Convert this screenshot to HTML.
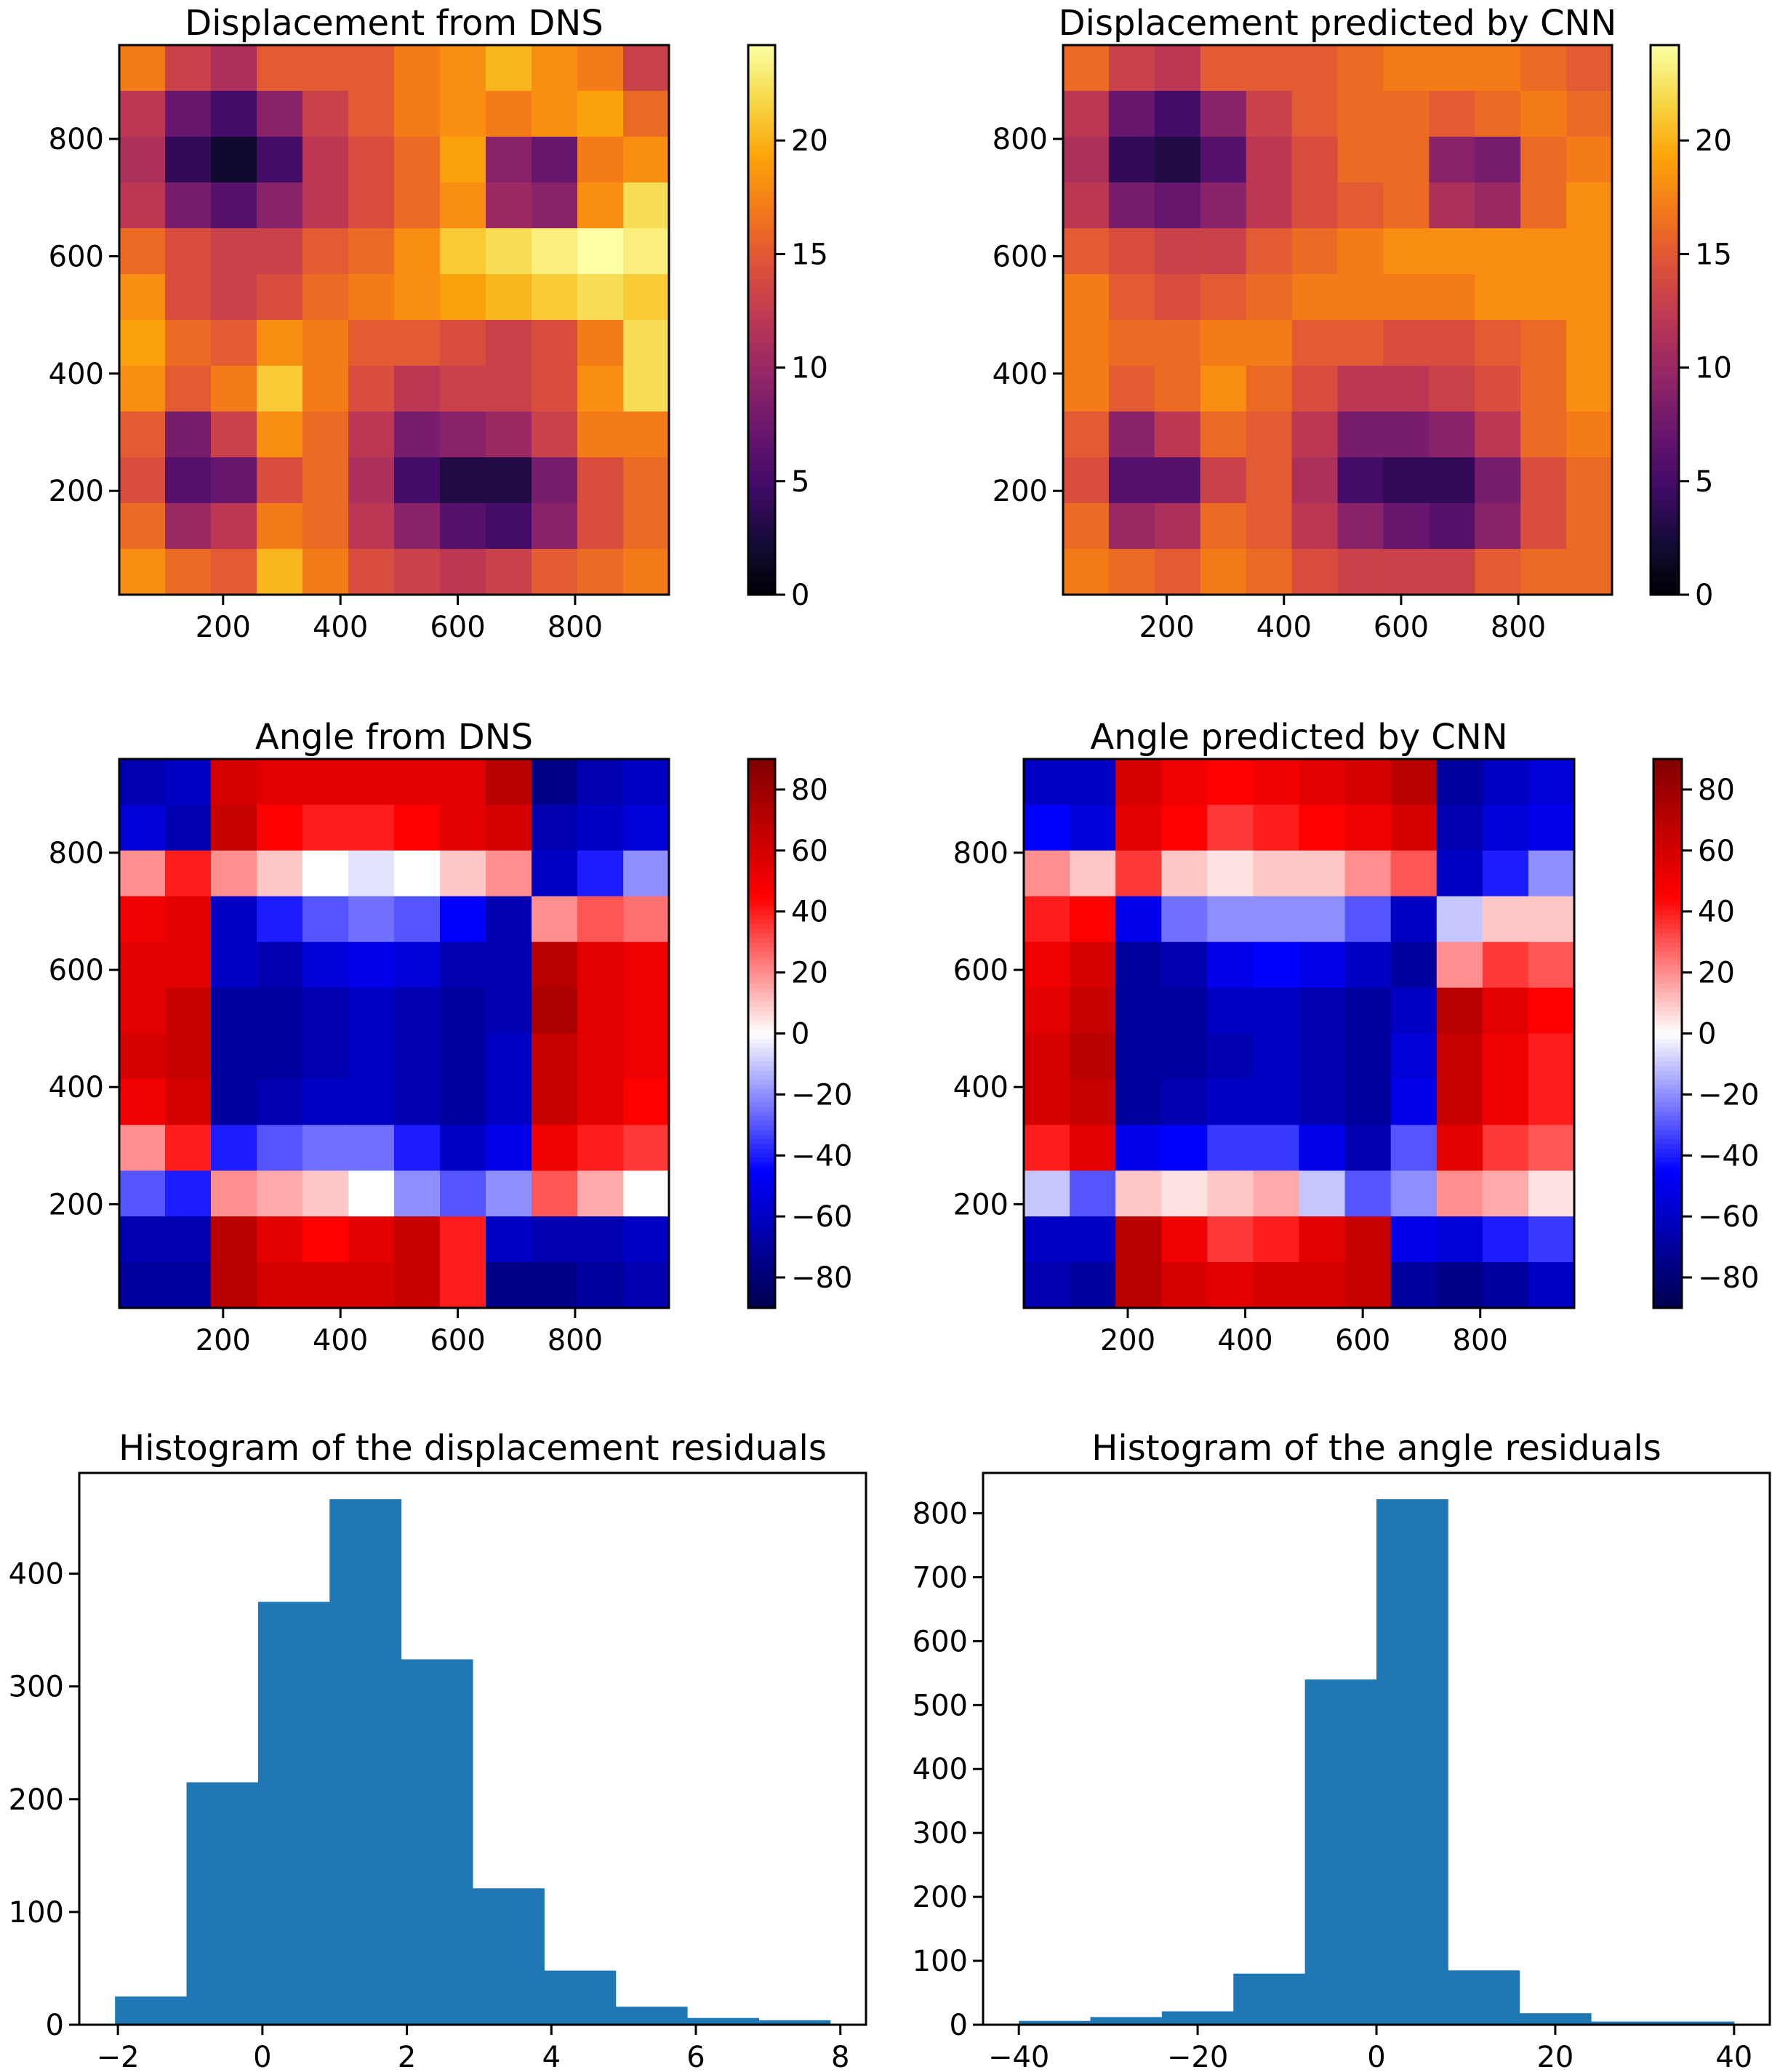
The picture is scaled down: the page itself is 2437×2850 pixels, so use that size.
<!DOCTYPE html>
<html><head><meta charset="utf-8"><style>
html,body{margin:0;padding:0;background:#fff;}
svg{display:block;font-family:"DejaVu Sans","Liberation Sans",sans-serif;}
</style></head><body>
<svg id="fig" width="2437" height="2850" viewBox="0 0 2437 2850" xmlns="http://www.w3.org/2000/svg"></svg>
<script>
// ---------- data ----------
const dispDNS = [
[17,13,11,15,15,15,17,18,20,18,17,13],
[12,7,5,9,13,15,17,18,17,18,19,16],
[11,4,2,5,12,14,16,19,9,7,17,18],
[12,8,6,9,12,14,16,18,10,9,18,22],
[16,14,13,13,15,16,18,21,22,23,24,23],
[18,14,13,14,16,17,18,19,20,21,22,21],
[19,16,15,18,17,15,15,14,13,14,17,22],
[18,15,17,21,17,14,12,13,13,14,18,22],
[15,8,13,18,16,12,8,9,10,13,17,17],
[14,6,7,14,16,11,5,3,3,8,14,16],
[16,10,12,17,16,12,9,6,5,9,14,16],
[18,16,15,20,17,14,13,12,13,15,16,17]];
const dispCNN = [
[16,13,12,15,15,15,16,17,17,17,16,15],
[12,7,5,9,13,15,16,16,15,16,17,16],
[11,4,3,6,12,14,16,16,9,8,16,17],
[12,8,7,9,12,14,15,16,11,10,16,18],
[15,14,13,13,15,16,17,18,18,18,18,18],
[17,15,14,15,16,17,17,17,17,18,18,18],
[17,16,16,17,17,15,15,14,14,15,16,18],
[17,15,16,18,16,14,12,12,13,14,16,18],
[15,9,12,16,15,12,8,8,9,12,16,17],
[14,6,6,13,15,11,5,4,4,8,14,16],
[16,10,11,16,15,12,9,7,6,9,14,16],
[17,16,15,17,16,14,13,13,13,15,16,16]];
const angDNS = [
[-65,-60,60,55,55,55,55,55,70,-75,-65,-60],
[-55,-65,65,45,40,40,45,55,60,-65,-60,-55],
[20,40,20,10,0,-5,0,10,20,-60,-40,-20],
[50,55,-60,-40,-30,-25,-30,-45,-65,20,30,25],
[55,55,-60,-65,-55,-50,-55,-65,-65,70,55,50],
[55,65,-70,-70,-65,-60,-65,-70,-65,75,55,50],
[60,65,-70,-70,-65,-60,-65,-70,-60,65,55,50],
[50,60,-70,-65,-60,-60,-65,-70,-60,65,55,45],
[20,40,-40,-30,-25,-25,-40,-60,-50,50,40,35],
[-30,-40,20,15,10,0,-20,-30,-20,30,15,0],
[-65,-65,70,55,45,55,65,40,-60,-65,-65,-60],
[-70,-70,70,60,60,60,65,40,-75,-75,-70,-65]];
const angCNN = [
[-60,-60,60,50,45,50,55,60,70,-70,-60,-55],
[-45,-55,55,45,35,40,45,50,60,-65,-55,-50],
[20,10,35,10,5,10,10,20,30,-60,-40,-20],
[40,45,-50,-25,-20,-20,-20,-30,-60,-10,10,10],
[50,60,-70,-65,-50,-45,-50,-60,-70,20,35,30],
[55,65,-70,-70,-60,-60,-65,-70,-60,70,55,45],
[60,70,-70,-70,-65,-60,-65,-70,-55,65,50,40],
[60,65,-70,-65,-60,-60,-65,-70,-50,65,50,40],
[40,55,-50,-45,-35,-35,-50,-65,-30,55,35,30],
[-10,-30,10,5,10,15,-10,-30,-20,20,15,5],
[-60,-60,70,50,35,40,55,65,-50,-55,-40,-35],
[-65,-70,70,60,55,60,60,65,-70,-75,-70,-60]];
const mapTicks = [200,400,600,800];
const dispCbTicks = [0,5,10,15,20];
const angCbTicks = [-80,-60,-40,-20,0,20,40,60,80];
const dispHistEdges = [-2.04,-1.05,-0.06,0.93,1.92,2.91,3.90,4.89,5.88,6.87,7.86];
const dispHistCounts = [25,215,375,466,324,121,48,16,6,4];
const dispHistXTicks = [-2,0,2,4,6,8];
const dispHistYTicks = [0,100,200,300,400];
const angHistEdges = [-40,-32,-24,-16,-8,0,8,16,24,32,40];
const angHistCounts = [6,12,21,80,540,822,85,18,5,5];
const angHistXTicks = [-40,-20,0,20,40];
const angHistYTicks = [0,100,200,300,400,500,600,700,800];

// ---------- helpers ----------
const NS='http://www.w3.org/2000/svg';
const svg=document.getElementById('fig');
function mk(tag,attrs,parent){const e=document.createElementNS(NS,tag);for(const k in attrs)e.setAttribute(k,attrs[k]);(parent||svg).appendChild(e);return e;}
function fmt(v){return v<0?'\u2212'+Math.abs(v):String(v);}
function lerpStops(stops,t){t=Math.max(0,Math.min(1,t));for(let i=1;i<stops.length;i++){if(t<=stops[i][0]){const a=stops[i-1],b=stops[i];const f=(t-a[0])/(b[0]-a[0]);const c=[0,1,2].map(j=>Math.round(a[1][j]+(b[1][j]-a[1][j])*f));return 'rgb('+c.join(',')+')';}}const l=stops[stops.length-1][1];return 'rgb('+l.join(',')+')';}
function hex(h){return [parseInt(h.slice(0,2),16),parseInt(h.slice(2,4),16),parseInt(h.slice(4,6),16)];}
const inferno=[[0,hex('000004')],[0.1,hex('160b39')],[0.2,hex('420a68')],[0.3,hex('6a176e')],[0.4,hex('932667')],[0.5,hex('bc3754')],[0.6,hex('dd513a')],[0.7,hex('f37819')],[0.8,hex('fca50a')],[0.9,hex('f6d746')],[1,hex('fcffa4')]];
const seismic=[[0,[0,0,77]],[0.25,[0,0,255]],[0.5,[255,255,255]],[0.75,[255,0,0]],[1,[128,0,0]]];
const FS=40, TL=14, LW=3;

function title(text,cx,y,name){const t=mk('text',{x:cx,y:y,'text-anchor':'middle','font-size':48,fill:'#000'});t.textContent=text;

}
function xTick(g,px,y,v){mk('line',{x1:px,x2:px,y1:y,y2:y+TL,stroke:'#000','stroke-width':LW},g);const t=mk('text',{x:px,y:y+TL+44,'text-anchor':'middle','font-size':FS},g);t.textContent=fmt(v);}
function yTick(g,py,x,v){mk('line',{x1:x,x2:x-TL,y1:py,y2:py,stroke:'#000','stroke-width':LW},g);const t=mk('text',{x:x-TL-7,y:py+14,'text-anchor':'end','font-size':FS},g);t.textContent=fmt(v);}

function heatmap(name,data,L,T,R,B,cmap,vmin,vmax,ttl){
  const g=mk('g',{});
  
  
  const lo=23,hi=960;
  const sx=v=>L+(v-lo)/(hi-lo)*(R-L), sy=v=>B-(v-lo)/(hi-lo)*(B-T);
  const n=data.length, m=data[0].length;
  const cw=(hi-lo)/m, ch=(hi-lo)/n;
  for(let r=0;r<n;r++)for(let c=0;c<m;c++){
    const x0=sx(lo+c*cw),x1=sx(lo+(c+1)*cw),y0=sy(hi-r*ch),y1=sy(hi-(r+1)*ch);
    const cell=mk('rect',{x:x0,y:y0,width:x1-x0+0.6,height:y1-y0+0.6,fill:lerpStops(cmap,(data[r][c]-vmin)/(vmax-vmin))},g);
    
    
  }
  mk('rect',{x:L,y:T,width:R-L,height:B-T,fill:'none',stroke:'#000','stroke-width':LW},g);
  mapTicks.forEach(v=>xTick(g,sx(v),B,v));
  mapTicks.forEach(v=>yTick(g,sy(v),L,v));
  title(ttl,(L+R)/2,T-14,name+'-title');
}
function colorbar(name,L,T,R,B,cmap,vmin,vmax,ticks){
  const g=mk('g',{});
  
  
  const N=120;
  for(let i=0;i<N;i++){const y0=B-(i+1)*(B-T)/N;mk('rect',{x:L,y:y0,width:R-L,height:(B-T)/N+0.8,fill:lerpStops(cmap,(i+0.5)/N)},g);}
  mk('rect',{x:L,y:T,width:R-L,height:B-T,fill:'none',stroke:'#000','stroke-width':LW},g);
  ticks.forEach(v=>{const py=B-(v-vmin)/(vmax-vmin)*(B-T);mk('line',{x1:R,x2:R+TL,y1:py,y2:py,stroke:'#000','stroke-width':LW},g);const t=mk('text',{x:R+TL+8,y:py+14,'font-size':FS},g);t.textContent=fmt(v);});
}
function histogram(name,edges,counts,xt,yt,L,T,R,B,ttl){
  const g=mk('g',{});
  
  
  const span=edges[edges.length-1]-edges[0];
  const xlo=edges[0]-0.05*span, xhi=edges[edges.length-1]+0.05*span;
  const ymax=Math.max(...counts)*1.05;
  const sx=v=>L+(v-xlo)/(xhi-xlo)*(R-L), sy=v=>B-v/ymax*(B-T);
  counts.forEach((c,i)=>{const b=mk('rect',{x:sx(edges[i]),y:sy(c),width:sx(edges[i+1])-sx(edges[i])+0.5,height:sy(0)-sy(c),fill:'#1f77b4'},g);
    
    });
  mk('rect',{x:L,y:T,width:R-L,height:B-T,fill:'none',stroke:'#000','stroke-width':LW},g);
  xt.forEach(v=>xTick(g,sx(v),B,v));
  yt.forEach(v=>yTick(g,sy(v),L,v));
  title(ttl,(L+R)/2,T-18,name+'-title');
}

heatmap('displacement-dns-map',dispDNS,164,62,920,818,inferno,0,24,'Displacement from DNS');
colorbar('displacement-dns-colorbar',1029,62,1066,818,inferno,0,24.2,dispCbTicks);
heatmap('displacement-cnn-map',dispCNN,1462,62,2217,818,inferno,0,24,'Displacement predicted by CNN');
colorbar('displacement-cnn-colorbar',2270,62,2309,818,inferno,0,24.2,dispCbTicks);
heatmap('angle-dns-map',angDNS,164,1044,920,1799,seismic,-90,90,'Angle from DNS');
colorbar('angle-dns-colorbar',1029,1044,1066,1799,seismic,-90,90,angCbTicks);
heatmap('angle-cnn-map',angCNN,1408,1044,2165,1799,seismic,-90,90,'Angle predicted by CNN');
colorbar('angle-cnn-colorbar',2274,1044,2313,1799,seismic,-90,90,angCbTicks);
histogram('displacement-residual-histogram',dispHistEdges,dispHistCounts,dispHistXTicks,dispHistYTicks,109,2026,1191,2785,'Histogram of the displacement residuals');
histogram('angle-residual-histogram',angHistEdges,angHistCounts,angHistXTicks,angHistYTicks,1352,2026,2434,2785,'Histogram of the angle residuals');
</script>
</body></html>
